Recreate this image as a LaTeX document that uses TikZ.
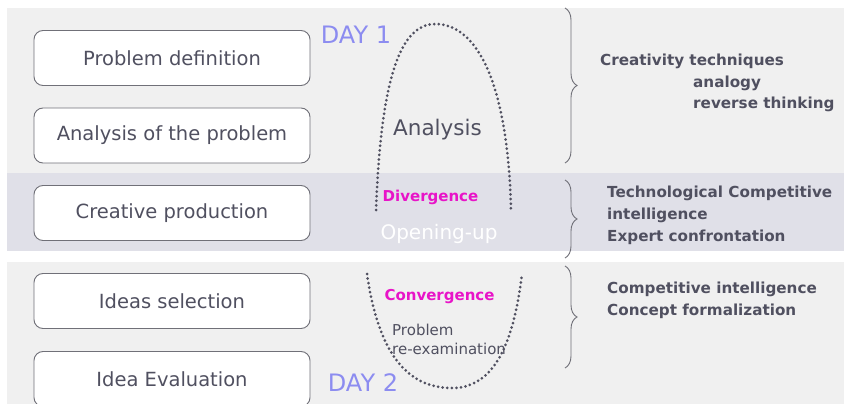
\documentclass[tikz,border=0pt]{standalone}
\usepackage{fontspec}
\setmainfont{DejaVu Sans}
\usetikzlibrary{decorations.pathreplacing}
\definecolor{bandA}{RGB}{240,240,240}
\definecolor{bandB}{RGB}{224,224,232}
\definecolor{txt}{RGB}{80,80,96}
\definecolor{boxline}{RGB}{112,112,120}
\definecolor{dayc}{RGB}{140,140,240}
\definecolor{mag}{RGB}{232,20,200}
\tikzset{
  stepbox/.style={draw=boxline, line width=0.9pt, fill=white, rounded corners=9pt,
    minimum width=276pt, minimum height=55pt, text=txt, font=\fontsize{19.5}{22}\selectfont},
  daylabel/.style={text=dayc, inner sep=0pt, font=\fontsize{24}{28}\selectfont},
  midlabel/.style={text=txt, inner sep=0pt, font=\fontsize{21.5}{24}\selectfont},
  maglabel/.style={text=mag, inner sep=0pt, font=\bfseries\fontsize{15}{17}\selectfont},
  smalllabel/.style={text=txt, inner sep=0pt, align=left, font=\fontsize{15}{19}\selectfont},
  sidetext/.style={text=txt, inner sep=0pt, anchor=west, font=\bfseries\fontsize{15.2}{17}\selectfont},
  dotcurve/.style={draw=txt, line width=3pt, line cap=round, dash pattern=on 0pt off 4.6pt},
  bracestyle/.style={draw=boxline, line width=0.9pt, decorate, decoration={brace, amplitude=12pt}}
}
\begin{document}
\begin{tikzpicture}[x=1pt,y=-1pt]
\useasboundingbox (0,0) rectangle (844,404);
\fill[white] (0,0) rectangle (844,404);
% bands
\fill[bandA] (7,8) rectangle (844,173);
\fill[bandB] (7,173) rectangle (844,251);
\fill[bandA] (7,262) rectangle (844,404);
% boxes
\begin{scope}
\clip (0,0) rectangle (844,404);
\node[stepbox] (b1) at (172,58) {Problem definition};
\node[stepbox] (b2) at (172,135.5) {Analysis of the problem};
\node[stepbox] (b3) at (172,213) {Creative production};
\node[stepbox] (b4) at (172,301) {Ideas selection};
\node[stepbox] (b5) at (172,379) {Idea Evaluation};
\end{scope}
% day labels
\node[daylabel] (d1) at (356,35) {DAY 1};
\node[daylabel] (d2) at (363,383) {DAY 2};
% curves
\coordinate (u1) at (376,210);
\coordinate (u2) at (435,24);
\coordinate (u3) at (511,209);
\draw[dotcurve] (u1) .. controls (380,110) and (392,24) .. (u2)
                     .. controls (480,24) and (508,90) .. (u3);
\coordinate (l1) at (367,274);
\coordinate (l2) at (452,388);
\coordinate (l3) at (522,274);
\draw[dotcurve] (l1) .. controls (378,350) and (405,388) .. (l2)
                     .. controls (500,388) and (515,330) .. (l3);
% middle labels
\node[midlabel] (an) at (437.5,130) {Analysis};
\node[maglabel] (dv) at (430.5,197) {Divergence};
\node[midlabel, text=white, font=\fontsize{20}{24}\selectfont] (op) at (439,234) {Opening-up};
\node[maglabel] (cv) at (439.5,297) {Convergence};
\node[smalllabel, anchor=north west] (pr) at (392,324) {Problem\\re-examination};
% braces
\coordinate (br1t) at (565,8);
\coordinate (br1b) at (565,163);
\coordinate (br2t) at (565,180);
\coordinate (br2b) at (565,258);
\coordinate (br3t) at (565,266);
\coordinate (br3b) at (565,368);
\draw[bracestyle] (br1t) -- (br1b);
\draw[bracestyle] (br2t) -- (br2b);
\draw[bracestyle] (br3t) -- (br3b);
% side texts
\node[sidetext] (s1) at (600,61) {Creativity techniques};
\node[sidetext] (s2) at (693,83) {analogy};
\node[sidetext] (s3) at (693,104) {reverse thinking};
\node[sidetext] (s4) at (607,193) {Technological Competitive};
\node[sidetext] (s5) at (607,215) {intelligence};
\node[sidetext] (s6) at (607,237) {Expert confrontation};
\node[sidetext] (s7) at (607,289) {Competitive intelligence};
\node[sidetext] (s8) at (607,311) {Concept formalization};
\end{tikzpicture}
\end{document}
